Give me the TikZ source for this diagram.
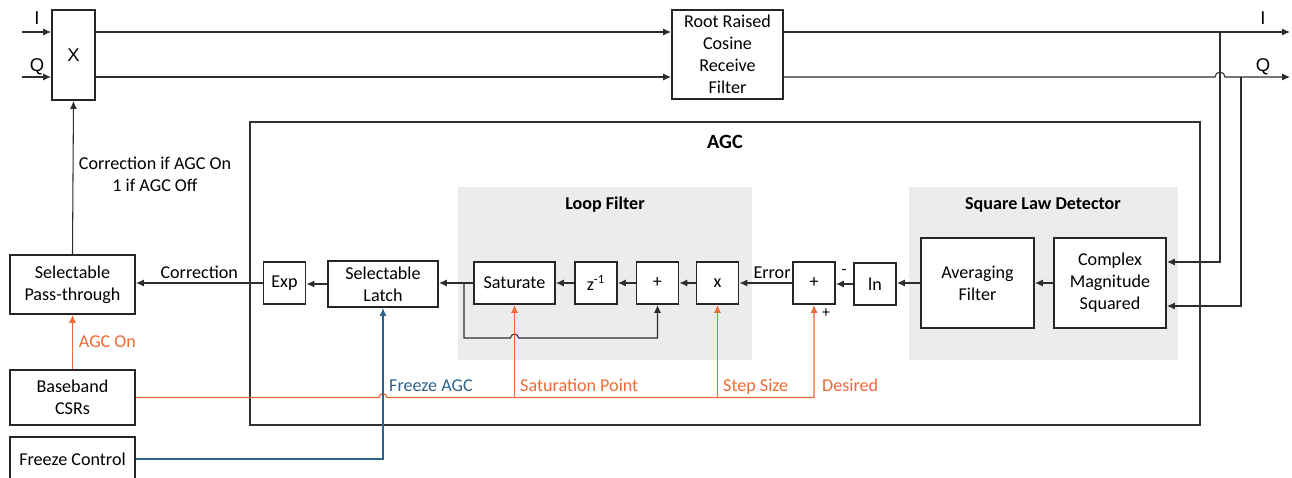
\documentclass[tikz,border=0pt]{standalone}
\usepackage{fontspec}
\setmainfont{Carlito}
\newfontfamily\arialfont{Liberation Sans}
\usetikzlibrary{arrows.meta}
\definecolor{csrorange}{RGB}{237,106,52}
\definecolor{frzblue}{RGB}{46,100,140}
\definecolor{panelgray}{RGB}{235,236,236}
\definecolor{linegray}{RGB}{45,45,45}

\begin{document}
\begin{tikzpicture}[x=0.02cm, y=-0.02cm, >={Latex[length=4.5pt,width=4pt]},
        font=\fontsize{10.3}{12.5}\selectfont,
        blk/.style={draw=black!85, line width=1.1pt, fill=white, align=center, inner sep=1pt},
        small/.style={blk, minimum width=0.84cm, minimum height=0.84cm},
        wire/.style={draw=linegray, line width=0.6pt},
        csrline/.style={draw=csrorange, line width=0.7pt},
        frzline/.style={draw=frzblue, line width=0.7pt},
        title/.style={font=\bfseries\fontsize{10.3}{12.5}\selectfont},
        iq/.style={font=\arialfont\fontsize{10.5}{12}\selectfont}]
        \useasboundingbox (0,0) rectangle (1292,477);

        % AGC frame and panels
        \draw[line width=0.6pt, draw=black!80] (250,122) rectangle (1200,425);
        \node[font=\bfseries\fontsize{11.5}{13}\selectfont] (agctitle) at (725,142) {AGC};
        \fill[panelgray] (458,187) rectangle (752,360);
        \node[title] (lftitle) at (605,205) {Loop Filter};
        \fill[panelgray] (909,187) rectangle (1178,360);
        \node[title] (sldtitle) at (1043,205) {Square Law Detector};

        % blocks
        \node[blk, iq, minimum width=0.86cm, minimum height=1.8cm] (mix) at (73.5,55) {X};
        \node[blk, minimum width=2.22cm, minimum height=1.78cm] (rrc) at (727.5,54.5) {Root Raised\\Cosine\\Receive\\Filter};
        \node[blk, minimum width=2.24cm, minimum height=1.8cm] (cms) at (1110,283) {Complex\\Magnitude\\Squared};
        \node[blk, minimum width=2.26cm, minimum height=1.8cm] (avg) at (977.5,283) {Averaging\\Filter};
        \node[small] (ln) at (875,284) {ln};
        \node[small] (sum) at (814,283) {+};
        \node[small] (mul) at (717.5,283) {x};
        \node[small] (add) at (657.5,283) {+};
        \node[small] (dly) at (596,283) {z\textsuperscript{-1}};
        \node[blk, minimum width=1.62cm, minimum height=0.84cm] (sat) at (514.5,283) {Saturate};
        \node[blk, minimum width=2.2cm, minimum height=0.92cm] (latch) at (383,284) {Selectable\\Latch};
        \node[small] (exp) at (284.5,283) {Exp};
        \node[blk, minimum width=2.5cm, minimum height=1.18cm] (pass) at (72.5,284.5) {Selectable\\Pass-through};
        \node[blk, minimum width=2.5cm, minimum height=1.1cm] (csr) at (72.5,397.5) {Baseband\\CSRs};
        \node[blk, minimum width=2.5cm, minimum height=0.88cm] (frz) at (72.5,459) {Freeze Control};

        % I/Q path
        \coordinate (iin) at (22,32);
        \coordinate (qin) at (22,77);
        \coordinate (iout) at (1290,32);
        \coordinate (qout) at (1290,77);
        \coordinate (itap) at (1220,32);
        \coordinate (qtap) at (1241,77);
        \node[iq] (ilbl) at (37,18) {I};
        \node[iq] (qlbl) at (37,67) {Q};
        \node[iq] (iolbl) at (1263,18) {I};
        \node[iq] (qolbl) at (1263,67) {Q};
        \draw[wire,->] (iin) -- (iin -| mix.west);
        \draw[wire,->] (qin) -- (qin -| mix.west);
        \draw[wire,->] (iin -| mix.east) -- (iin -| rrc.west);
        \draw[wire,->] (qin -| mix.east) -- (qin -| rrc.west);
        \draw[wire,->] (iin -| rrc.east) -- (iout);
        \draw[wire,->] (qin -| rrc.east) -- (1215,77) arc[start angle=180, end angle=0, radius=0.1cm] -- (qout);
        \draw[wire,->] (itap) |- ([yshift=0.42cm]cms.east);
        \draw[wire,->] (qtap) |- ([yshift=-0.46cm]cms.east);

        % AGC chain
        \draw[wire,->] (cms.west) -- (avg.east);
        \draw[wire,->] (avg.west) -- (avg.west -| ln.east);
        \draw[wire,->] (ln.west) -- (ln.west -| sum.east);
        \node[font=\fontsize{9}{10}\selectfont] (minus) at (844,272) {-};
        \node[font=\fontsize{9}{10}\selectfont] (plus) at (826,313) {+};
        \draw[wire,->] (sum.west) -- (mul.east) node[pos=0.38, above=-1pt] {Error};
        \draw[wire,->] (mul.west) -- (add.east);
        \draw[wire,->] (add.west) -- (dly.east);
        \draw[wire,->] (dly.west) -- (sat.east);
        \draw[wire,->] (sat.west) -- (sat.west -| latch.east);
        \coordinate (fb) at (464,283);
        \coordinate (fbl) at (464,338);
        \draw[wire,->] (fb) -- (fbl) -- (510.5,338) arc[start angle=180, end angle=0, radius=0.08cm]
            -- (add.south |- fbl) -- (add.south);
        \draw[wire,->] (latch.west) -- (latch.west -| exp.east);
        \draw[wire,->] (exp.west) -- (exp.west -| pass.east) node[midway, above=-1pt] {Correction};
        \draw[wire,->] (pass.north) -- (mix.south);
        \node[align=center] (corrlbl) at (155,174) {Correction if AGC On\\1 if AGC Off};

        % control inputs
        \draw[csrline,->] (csr.north) -- (pass.south) node[midway, right, text=csrorange] {AGC On};
        \draw[csrline,->] (csr.east) -- (379,397.5) arc[start angle=180, end angle=0, radius=0.08cm]
            -- (sum.south |- csr.east) -- (sum.south);
        \draw[csrline,->] (sat.south |- csr.east) -- (sat.south);
        \draw[csrline,->] (mul.south |- csr.east) -- (mul.south);
        \node[anchor=base west, text=csrorange] (satlbl) at (514,391) {Saturation Point};
        \node[anchor=base west, text=csrorange] (steplbl) at (717,391) {Step Size};
        \node[anchor=base west, text=csrorange] (deslbl) at (816,391) {Desired};
        \draw[frzline,->] (frz.east) -| (latch.south);
        \node[anchor=base west, text=frzblue] (frzlbl) at (383,391) {Freeze AGC};
\end{tikzpicture}
\end{document}
